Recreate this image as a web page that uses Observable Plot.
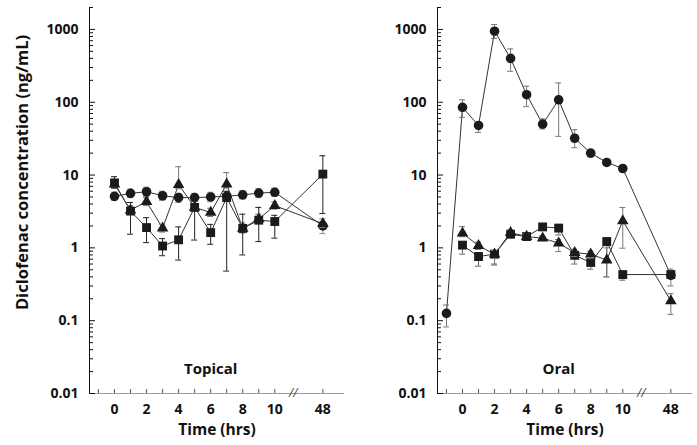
<!DOCTYPE html>
<html><head><meta charset="utf-8">
<script src="https://cdn.jsdelivr.net/npm/d3@7"></script>
<script src="https://cdn.jsdelivr.net/npm/@observablehq/plot@0.6"></script>
<style>
body{margin:0;background:#fff;}
#wrap{display:flex;width:697px;height:445px;overflow:hidden;}
svg{font-family:"Open Sans","DejaVu Sans",sans-serif;}
</style></head><body><div id="wrap"></div>
<script>
// ---------- data ----------
const yTitle = "Diclofenac concentration (ng/mL)";
const xTitle = "Time (hrs)";
const xTickValues = [0, 2, 4, 6, 8, 10, 48];
const xMinorTicks = [-1, 0, 1, 2, 3, 4, 5, 6, 7, 8, 9, 10, 48];
const yTickValues = [0.01, 0.1, 1, 10, 100, 1000];

// Topical panel
const topicalTime = [0, 1, 2, 3, 4, 5, 6, 7, 8, 9, 10, 48];
const topicalCircle   = [5.1, 5.6, 5.9, 5.2, 4.9, 4.9, 5.0, 5.1, 5.35, 5.65, 5.8, 2.0];
const topicalCircleHi = [5.8, 6.4, 6.8, 6.0, 5.6, 5.6, 5.8, 5.9, 6.1, 6.5, 6.6, 2.3];
const topicalCircleLo = [4.5, 4.9, 5.1, 4.5, 4.2, 4.3, 4.3, 4.5, 4.7, 4.9, 5.1, 1.57];
const topicalSquare   = [7.8, 3.2, 1.9, 1.06, 1.29, 3.6, 1.62, 4.9, 1.85, 2.4, 2.3, 10.3];
const topicalSquareHi = [9.5, 4.2, 2.6, 1.34, 1.94, 4.4, 2.1, 6.0, 2.9, 3.6, 2.8, 18.4];
const topicalSquareLo = [6.6, 1.54, 1.18, 0.78, 0.68, 1.28, 1.12, 0.48, 0.8, 1.22, 1.36, 2.96];
const topicalTriangle   = [7.5, 3.3, 4.3, 1.87, 7.4, 3.6, 3.06, 7.5, 1.85, 2.5, 3.8, 2.15];
const topicalTriangleHi = [8.4, 3.8, 4.9, 2.1, 13.0, 4.0, 3.5, 10.8, 2.2, 2.9, 4.3, 2.5];
const topicalTriangleLo = [6.7, 2.9, 3.8, 1.65, 6.5, 3.2, 2.7, 6.6, 1.6, 2.2, 3.4, 1.9];

// Oral panel
const oralTime = [-1, 0, 1, 2, 3, 4, 5, 6, 7, 8, 9, 10, 48];
const oralCircle   = [0.126, 85, 48, 945, 400, 127, 50, 108, 32, 20, 14.9, 12.3, 0.42];
const oralCircleHi = [0.164, 108, 53, 1170, 540, 166, 59, 184, 42, 22, 16.2, 13.2, 0.51];
const oralCircleLo = [0.082, 62, 38.5, 750, 266, 87, 43, 34, 23.7, 17.8, 13.6, 11.4, 0.30];
const oralSquare   = [null, 1.09, 0.76, 0.82, 1.54, 1.43, 1.94, 1.87, 0.79, 0.63, 1.22, 0.43, 0.43];
const oralSquareHi = [null, 1.2, 0.86, 0.92, 1.68, 1.55, 2.1, 2.02, 0.88, 0.7, 1.38, 0.47, 0.47];
const oralSquareLo = [null, 0.82, 0.56, 0.6, 1.38, 1.3, 1.78, 1.5, 0.6, 0.51, 0.40, 0.36, 0.38];
const oralTriangle   = [null, 1.59, 1.07, 0.82, 1.62, 1.43, 1.36, 1.16, 0.86, 0.82, 0.68, 2.35, 0.187];
const oralTriangleHi = [null, 1.96, 1.2, 0.92, 1.76, 1.55, 1.46, 1.3, 0.96, 0.9, 1.0, 3.58, 0.235];
const oralTriangleLo = [null, 1.42, 0.95, 0.58, 1.48, 1.3, 1.26, 0.89, 0.76, 0.72, 0.40, 0.99, 0.122];

// ---------- helpers ----------
const BREAK_AT = 11.15;             // where the broken axis "//" sits
const pos = t => t === 48 ? 13 : t; // 48 h drawn after the axis break
const X_DOMAIN = [-1.56, 14.35];
const Y_DOMAIN = [0.01, 2000];

function rowsFor(times, v, hi, lo, name) {
  const out = [];
  times.forEach((t, i) => {
    if (v[i] == null) return;
    out.push({series: name, x: pos(t), v: v[i], hi: hi[i], lo: lo[i]});
  });
  return out;
}

const logTicks = d3.scaleLog().domain(Y_DOMAIN).ticks().filter(d => d >= 0.01 && d <= 2000);
const yMinor = logTicks.filter(d => !yTickValues.some(m => Math.abs(m - d) / m < 1e-9));

function panel({label, times, series, order, width, marginLeft, marginRight, showTitle}) {
  const sets = {};
  for (const s of series) sets[s.name] = rowsFor(times, s.v, s.hi, s.lo, s.name);
  const all = series.flatMap(s => sets[s.name]);
  const sty = Object.fromEntries(series.map(s => [s.name, s]));
  const bold = "700";
  const marks = [
    // axis lines
    Plot.ruleY([Y_DOMAIN[0]], {stroke: "#9a9a9a", strokeWidth: 1.2}),
    Plot.ruleX([X_DOMAIN[0]], {stroke: "#111", strokeWidth: 1}),
    // inward x ticks
    Plot.ruleX(xMinorTicks.map(pos), {x: d => d, y1: Y_DOMAIN[0], y2: Y_DOMAIN[0], insetTop: -4, stroke: "#555"}),
    // inward y ticks
    Plot.ruleY(yTickValues, {y: d => d, x1: X_DOMAIN[0], x2: X_DOMAIN[0], insetRight: -6, stroke: "#111"}),
    Plot.ruleY(yMinor, {y: d => d, x1: X_DOMAIN[0], x2: X_DOMAIN[0], insetRight: -4, stroke: "#111"}),
    // axis break
    Plot.text(["//"], {x: () => BREAK_AT, frameAnchor: "bottom", lineAnchor: "middle", textAnchor: "middle", fontSize: 12, fontStyle: "italic", fill: "#444", fontWeight: "normal"}),
    Plot.axisX(xTickValues.map(pos), {tickSize: 0, tickPadding: 11, tickFormat: d => d === 13 ? "48" : String(d), fontSize: 14, fontWeight: bold, label: null}),
    Plot.axisY(yTickValues, {tickSize: 0, tickPadding: 11, tickFormat: d => String(d), fontSize: 14, fontWeight: bold, label: null}),
    Plot.text([xTitle], {frameAnchor: "bottom", lineAnchor: "middle", textAnchor: "middle", dy: 37, fontSize: 15.5, fontWeight: bold, fill: "#111"}),
    Plot.text([label], {x: () => 6, frameAnchor: "bottom", lineAnchor: "middle", textAnchor: "middle", dy: -24, fontSize: 15, fontWeight: bold, fill: "#111"}),
    // series lines
    Plot.line(all, {x: "x", y: "v", z: "series", stroke: "#333", strokeWidth: 1})
  ];
  if (showTitle) {
    marks.push(Plot.text([yTitle], {frameAnchor: "left", textAnchor: "middle", lineAnchor: "middle", dx: -67, dy: -28, rotate: -90, fontSize: 16.5, fontWeight: bold, fill: "#111"}));
  }
  for (const name of order) {
    const d = sets[name], s = sty[name];
    marks.push(
      Plot.ruleX(d, {x: "x", y1: "lo", y2: "hi", stroke: s.err, strokeWidth: 1}),
      Plot.ruleY(d, {y: "hi", x1: "x", x2: "x", insetLeft: -3, insetRight: -3, stroke: s.err}),
      Plot.ruleY(d, {y: "lo", x1: "x", x2: "x", insetLeft: -3, insetRight: -3, stroke: s.err}),
      Plot.dot(d, {x: "x", y: "v", symbol: s.symbol, r: s.r, fill: "#1b1b1b", stroke: "none"})
    );
  }
  return Plot.plot({
    width, height: 445,
    marginLeft, marginRight, marginTop: 7, marginBottom: 52,
    x: {domain: X_DOMAIN, axis: null},
    y: {type: "log", domain: Y_DOMAIN, axis: null},
    style: {fontFamily: "'Open Sans', 'DejaVu Sans', sans-serif", fontSize: "14px", color: "#111", background: "#fff"},
    marks
  });
}

const wrap = document.getElementById("wrap");
wrap.appendChild(panel({
  label: "Topical", times: topicalTime, showTitle: true,
  width: 345, marginLeft: 89, marginRight: 1,
  order: ["circle", "triangle", "square"],
  series: [
    {name: "circle", symbol: "circle", r: 4.8, err: "#8a8a8a", v: topicalCircle, hi: topicalCircleHi, lo: topicalCircleLo},
    {name: "square", symbol: "square", r: 5.0, err: "#222", v: topicalSquare, hi: topicalSquareHi, lo: topicalSquareLo},
    {name: "triangle", symbol: "triangle", r: 4.3, err: "#777", v: topicalTriangle, hi: topicalTriangleHi, lo: topicalTriangleLo}
  ]
}));
wrap.appendChild(panel({
  label: "Oral", times: oralTime, showTitle: false,
  width: 352, marginLeft: 92, marginRight: 5,
  order: ["square", "triangle", "circle"],
  series: [
    {name: "circle", symbol: "circle", r: 4.8, err: "#777", v: oralCircle, hi: oralCircleHi, lo: oralCircleLo},
    {name: "square", symbol: "square", r: 5.0, err: "#666", v: oralSquare, hi: oralSquareHi, lo: oralSquareLo},
    {name: "triangle", symbol: "triangle", r: 4.3, err: "#777", v: oralTriangle, hi: oralTriangleHi, lo: oralTriangleLo}
  ]
}));
</script></body></html>
